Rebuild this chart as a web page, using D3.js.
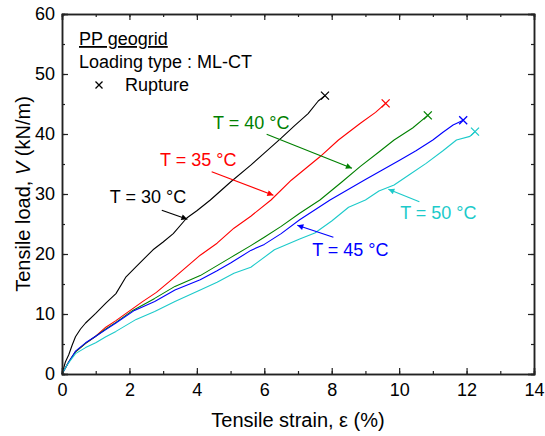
<!DOCTYPE html>
<html>
<head>
<meta charset="utf-8">
<script src="https://cdn.jsdelivr.net/npm/d3@7"></script>
<style>
  html, body { margin: 0; padding: 0; background: #fff; }
  svg text { font-family: "Liberation Sans", Arial, sans-serif; }
</style>
</head>
<body>
<svg id="chart" width="545" height="436"></svg>
<script>
// ---- data (strain %, load kN/m) ----
const xTicks = [0, 2, 4, 6, 8, 10, 12, 14];
const yTicks = [0, 10, 20, 30, 40, 50, 60];

const t30 = [[0,0],[0.05,1.0],[0.1,2.0],[0.2,3.2],[0.3,4.8],[0.4,6.2],[0.55,7.5],[0.7,8.5],[1.0,10.1],[1.3,11.8],[1.6,13.4],[1.9,16.2],[2.2,17.9],[2.7,20.7],[3.0,22.0],[3.3,23.4],[3.7,26.0],[4.0,27.2],[4.4,29.0],[5.0,32.0],[5.6,34.8],[6.0,36.8],[6.5,39.3],[6.9,41.4],[7.3,43.4],[7.6,45.5],[7.8,46.4]];
const t35 = [[0,0],[0.2,2.0],[0.4,3.7],[0.7,5.1],[1.0,6.3],[1.3,7.8],[1.6,8.9],[1.9,10.1],[2.4,12.1],[2.8,13.6],[3.35,16.2],[4.1,19.8],[4.6,21.8],[5.1,24.3],[5.6,26.3],[6.2,29.0],[6.8,32.3],[7.65,36.2],[8.2,39.0],[8.85,41.8],[9.3,43.6],[9.6,45.1]];
const t40 = [[0,0],[0.2,2.0],[0.4,3.7],[0.7,5.1],[1.0,6.3],[1.3,7.5],[1.6,8.6],[2.1,10.6],[2.75,12.6],[3.35,14.6],[4.1,16.4],[5.0,19.4],[5.6,21.4],[6.0,22.8],[6.5,24.6],[7.05,26.8],[7.65,29.0],[8.3,32.0],[8.85,34.6],[9.4,37.0],[9.85,39.0],[10.4,41.0],[10.85,43.1]];
const t45 = [[0,0],[0.2,2.0],[0.4,3.8],[0.7,5.2],[1.0,6.3],[1.3,7.4],[1.6,8.5],[2.15,10.6],[2.75,12.1],[3.35,14.0],[4.1,15.7],[4.6,17.2],[5.0,18.5],[5.6,20.6],[6.0,21.6],[6.5,23.4],[7.05,25.7],[7.95,29.0],[8.5,30.8],[9.0,32.4],[9.5,34.0],[10.0,35.6],[10.5,37.2],[11.0,39.0],[11.3,40.3],[11.6,41.5],[11.9,42.3]];
const t50 = [[0,0],[0.15,1.5],[0.4,3.4],[0.7,4.4],[1.0,5.2],[1.3,6.2],[1.6,7.1],[2.2,9.1],[2.75,10.4],[3.35,12.1],[4.1,14.0],[4.6,15.3],[5.1,16.8],[5.6,17.8],[6.3,20.7],[7.05,22.5],[7.5,23.5],[8.0,25.5],[8.5,27.8],[9.0,29.0],[9.4,30.5],[9.85,31.5],[10.3,33.2],[10.8,35.1],[11.3,37.2],[11.7,39.0],[12.1,39.6],[12.25,40.4]];

const seriesNames = ["T = 30 °C", "T = 35 °C", "T = 40 °C", "T = 45 °C", "T = 50 °C"];
const seriesData = [t30, t35, t40, t45, t50];
const seriesColors = ["#000000", "#ff0000", "#008000", "#0000ff", "#1ccaca"];

// annotation: text anchor (x, y) and arrow from (x1,y1) to (x2,y2), data units
const annotations = [
  {t: 0, tx: 1.42, ty: 28.5, x1: 2.96, y1: 27.3, x2: 3.72, y2: 25.8},
  {t: 1, tx: 2.91, ty: 34.7, x1: 4.44, y1: 33.7, x2: 6.27, y2: 29.8},
  {t: 2, tx: 4.48, ty: 40.8, x1: 6.07, y1: 39.95, x2: 8.6, y2: 34.3},
  {t: 3, tx: 7.42, ty: 19.7, x1: 8.05, y1: 22.8, x2: 6.98, y2: 24.8},
  {t: 4, tx: 10.03, ty: 25.8, x1: 10.6, y1: 28.7, x2: 9.68, y2: 30.8}
];

// ---- layout ----
const svg = d3.select("#chart");
const x0 = 62, x1 = 534, yTop = 14, yBot = 374;
const x = d3.scaleLinear().domain([0, 14]).range([x0, x1]);
const y = d3.scaleLinear().domain([0, 60]).range([yBot, yTop]);
const font = 18;
const titleFont = 20;
const axisColor = "#222";

// defs: arrowheads
const defs = svg.append("defs");
seriesColors.forEach((c, i) => {
  defs.append("marker")
    .attr("id", "arr" + i)
    .attr("viewBox", "0 0 10 10")
    .attr("refX", 10).attr("refY", 5)
    .attr("markerWidth", 9).attr("markerHeight", 6)
    .attr("markerUnits", "userSpaceOnUse")
    .attr("orient", "auto")
    .append("path").attr("d", "M0,0 L10,5 L0,10 Z").attr("fill", c);
});

// curves
const line = d3.line().x(d => x(d[0])).y(d => y(d[1]));
seriesData.forEach((s, i) => {
  svg.append("path").datum(s)
    .attr("d", line)
    .attr("fill", "none")
    .attr("stroke", seriesColors[i])
    .attr("stroke-width", 1.1)
    .attr("stroke-linejoin", "round");
  const e = s[s.length - 1];
  const cx = x(e[0]), cy = y(e[1]), r = 4;
  svg.append("path")
    .attr("d", `M${cx - r},${cy - r}L${cx + r},${cy + r}M${cx - r},${cy + r}L${cx + r},${cy - r}`)
    .attr("stroke", seriesColors[i]).attr("stroke-width", 1.3).attr("fill", "none");
});

// axes (ticks inward)
const xMinor = d3.range(0, 15, 1);
const yMinor = d3.range(0, 61, 5);
function drawAxis(axisGen, transform, showLabels) {
  const g = svg.append("g").attr("transform", transform).call(axisGen);
  g.select(".domain").attr("stroke", axisColor).attr("stroke-width", 1.5);
  g.selectAll(".tick line").attr("stroke", axisColor).attr("stroke-width", 1.2);
  g.selectAll(".tick text")
    .attr("font-size", font)
    .attr("fill", "#000");
  if (!showLabels) g.selectAll(".tick text").remove();
  return g;
}
// minor ticks
drawAxis(d3.axisBottom(x).tickValues(xMinor).tickSize(-3).tickFormat(""), `translate(0,${yBot})`, false);
drawAxis(d3.axisTop(x).tickValues(xMinor).tickSize(-3).tickFormat(""), `translate(0,${yTop})`, false);
drawAxis(d3.axisLeft(y).tickValues(yMinor).tickSize(-3).tickFormat(""), `translate(${x0},0)`, false);
drawAxis(d3.axisRight(y).tickValues(yMinor).tickSize(-3).tickFormat(""), `translate(${x1},0)`, false);
// major ticks
drawAxis(d3.axisBottom(x).tickValues(xTicks).tickSize(-6).tickPadding(9).tickFormat(d3.format("d")), `translate(0,${yBot})`, true);
drawAxis(d3.axisTop(x).tickValues(xTicks).tickSize(-6).tickFormat(""), `translate(0,${yTop})`, false);
drawAxis(d3.axisLeft(y).tickValues(yTicks).tickSize(-6).tickPadding(7).tickFormat(d3.format("d")), `translate(${x0},0)`, true);
drawAxis(d3.axisRight(y).tickValues(yTicks).tickSize(-6).tickFormat(""), `translate(${x1},0)`, false);

// axis titles
svg.append("text")
  .attr("x", (x0 + x1) / 2).attr("y", 427)
  .attr("text-anchor", "middle").attr("font-size", titleFont)
  .text("Tensile strain, ε (%)");
const yt = svg.append("text")
  .attr("transform", `translate(30,${(yTop + yBot) / 2}) rotate(-90)`)
  .attr("text-anchor", "middle").attr("font-size", titleFont);
yt.append("tspan").text("Tensile load, ");
yt.append("tspan").attr("font-style", "italic").text("V");
yt.append("tspan").text(" (kN/m)");

// legend block
svg.append("text").attr("x", 79).attr("y", 45).attr("font-size", font)
  .attr("text-decoration", "underline").text("PP geogrid");
svg.append("text").attr("x", 79).attr("y", 68).attr("font-size", font)
  .text("Loading type : ML-CT");
{
  const cx = 99, cy = 85, r = 3.5;
  svg.append("path")
    .attr("d", `M${cx - r},${cy - r}L${cx + r},${cy + r}M${cx - r},${cy + r}L${cx + r},${cy - r}`)
    .attr("stroke", "#000").attr("stroke-width", 1.3);
}
svg.append("text").attr("x", 125).attr("y", 91).attr("font-size", font).text("Rupture");

// annotations
annotations.forEach(a => {
  const c = seriesColors[a.t];
  svg.append("text").attr("x", x(a.tx)).attr("y", y(a.ty))
    .attr("font-size", font).attr("fill", c).text(seriesNames[a.t]);
  svg.append("line")
    .attr("x1", x(a.x1)).attr("y1", y(a.y1))
    .attr("x2", x(a.x2)).attr("y2", y(a.y2))
    .attr("stroke", c).attr("stroke-width", 1.2)
    .attr("marker-end", `url(#arr${a.t})`);
});
</script>
</body>
</html>
